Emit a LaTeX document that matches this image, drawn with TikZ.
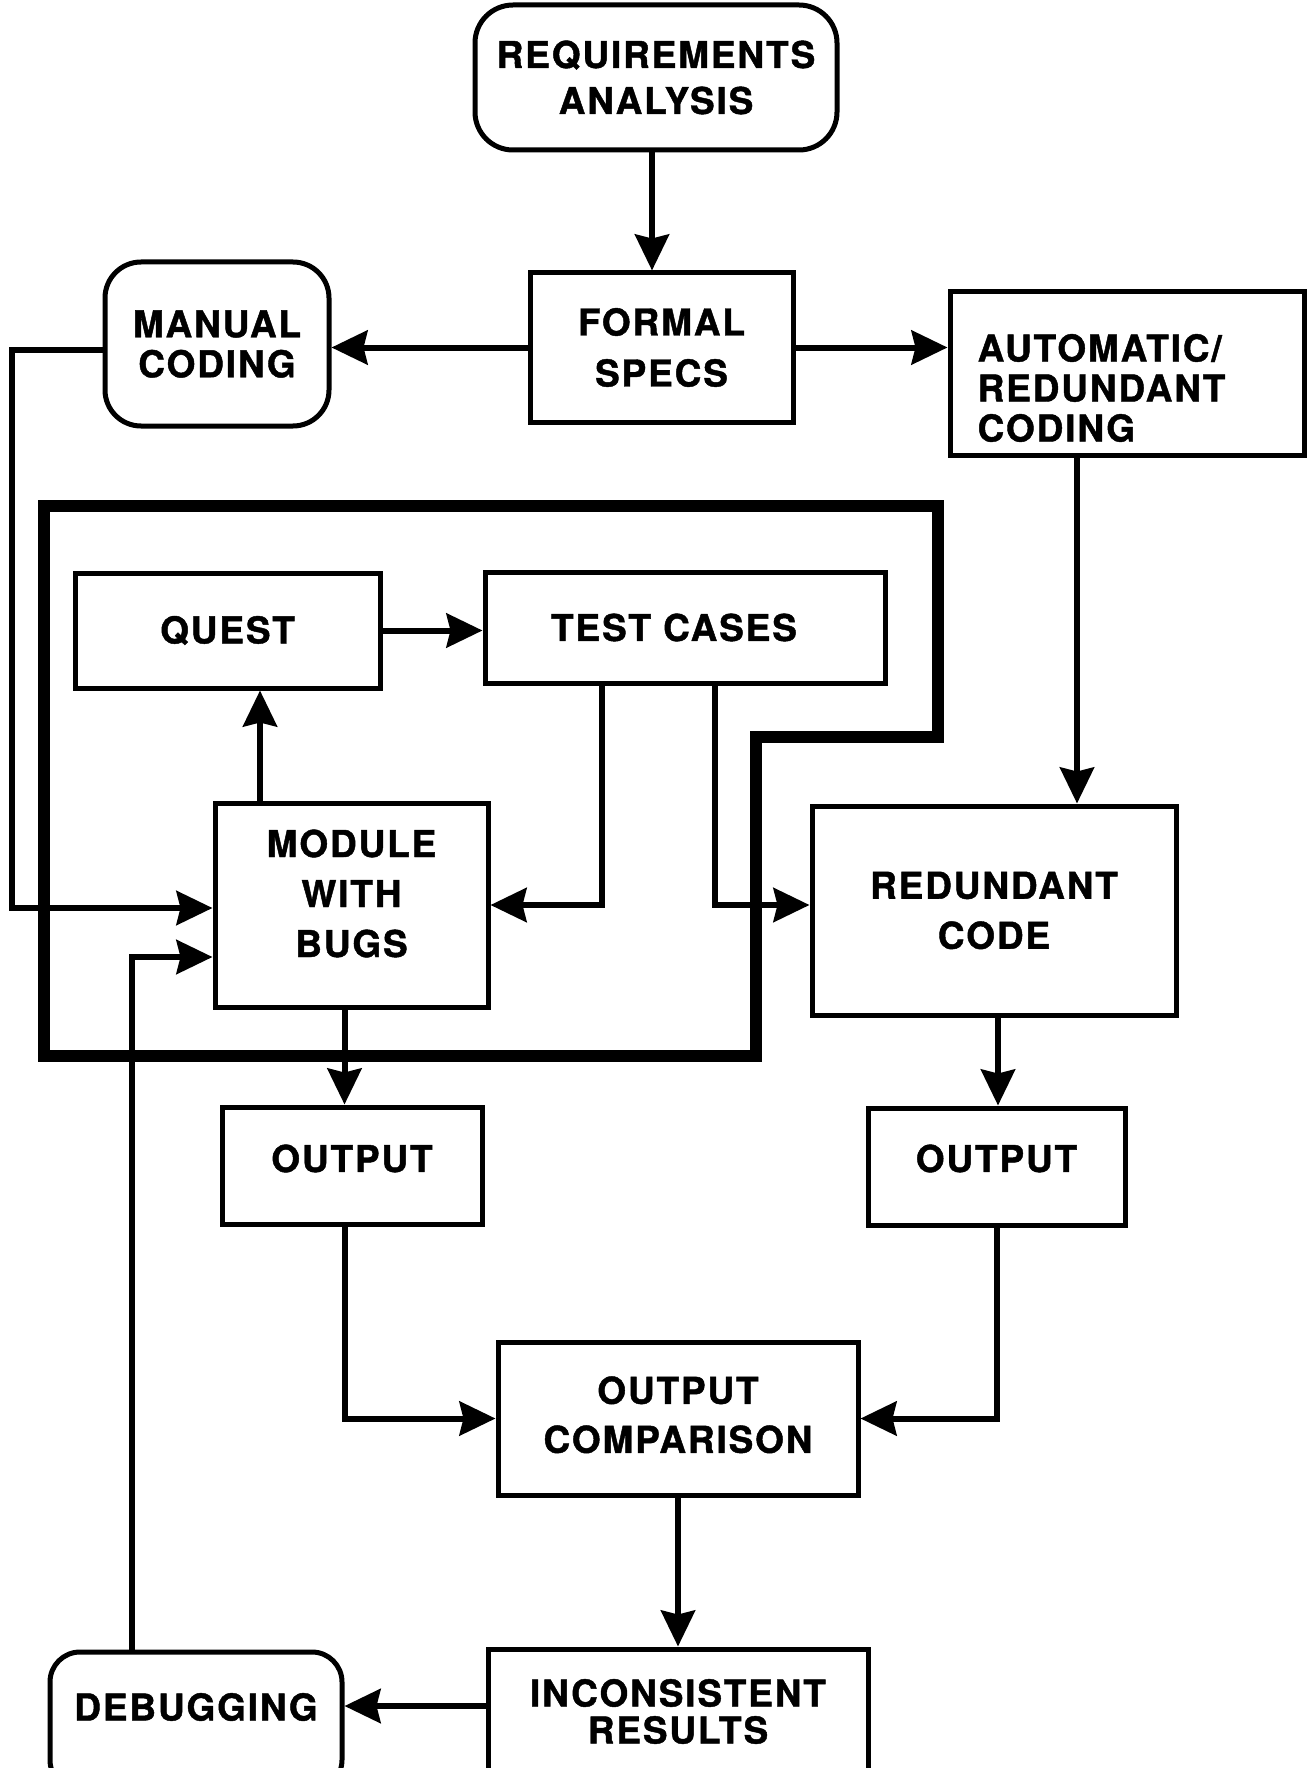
\documentclass[tikz,border=0pt]{standalone}
\usepackage{fontspec}
\setmainfont{TeX Gyre Heros}[LetterSpace=5, BoldFeatures={FakeBold=1.2}]
\usetikzlibrary{arrows.meta}
\newcommand\df[1]{\fontsize{37pt}{#1pt}\selectfont\bfseries}
\newcommand\rz[2]{\raisebox{#1}[\height][\depth]{#2}}
\begin{document}
\begin{tikzpicture}[x=1pt,y=-1pt,
  box/.style={draw, line width=5pt, rectangle, inner sep=4pt, align=center},
  arr/.style={line width=6pt, -{Stealth[length=36pt,width=34pt,inset=4pt]}},
  frameline/.style={line width=12pt, line join=miter}
]
\useasboundingbox (0,0) rectangle (1307,1768);
\fill[white] (0,0) rectangle (1307,1768);
\clip (0,0) rectangle (1307,1768);

% nodes
\node[box, rounded corners=38pt, minimum width=362pt, minimum height=145pt, font=\df{46}] (req) at (656,77.5) {REQUIREMENTS\\ANALYSIS};
\node[box, minimum width=263pt, minimum height=149pt, font=\df{51}] (formal) at (661.5,347.5) {FORMAL\\SPECS};
\node[box, rounded corners=36pt, minimum width=224pt, minimum height=164pt, font=\df{40}] (manual) at (217,344) {MANUAL\\CODING};
\node[draw, line width=5pt, rectangle, inner sep=4pt, minimum width=354pt, minimum height=163pt, font=\df{40}] (auto) at (1127,373.5)
  {\rz{-20pt}{\begin{tabular}{@{}l@{}}AUTOMATIC/\\REDUNDANT\\CODING\end{tabular}}\hspace*{51pt}};
\node[box, minimum width=305pt, minimum height=115pt, font=\df{44}] (quest) at (227.5,630.5) {QUEST};
\node[box, minimum width=400pt, minimum height=111pt, font=\df{44}] (test) at (685,627.5) {TEST CASES\hspace*{22pt}};
\node[box, minimum width=273pt, minimum height=204pt, font=\df{50}] (module) at (351.5,905) {\rz{8pt}{\begin{tabular}{@{}c@{}}MODULE\\WITH\\BUGS\end{tabular}}};
\node[box, minimum width=364pt, minimum height=209pt, font=\df{50}] (red) at (994,910.5) {REDUNDANT\\CODE};
\node[box, minimum width=260pt, minimum height=117pt, font=\df{44}] (outL) at (352,1165.5) {\rz{7pt}{OUTPUT}};
\node[box, minimum width=257pt, minimum height=117pt, font=\df{44}] (outR) at (996.5,1166.5) {\rz{8pt}{OUTPUT}};
\node[box, minimum width=360pt, minimum height=153pt, font=\df{49}] (comp) at (678,1418.5) {\begin{tabular}{@{}c@{}}OUTPUT\\COMPARISON\end{tabular}};
\node[box, minimum width=380pt, minimum height=125pt, font=\df{37}] (incons) at (678,1711.5) {INCONSISTENT\\RESULTS};
\node[box, rounded corners=30pt, minimum width=292pt, minimum height=138pt, font=\df{44}] (debug) at (196,1721) {\rz{14pt}{DEBUGGING}};

% thick frame
\draw[frameline] (44,506) -- (938,506) -- (938,737) -- (756,737) -- (756,1056) -- (44,1056) -- cycle;

% connectors
\draw[arr] ([xshift=-4pt]req.south) -- ([xshift=-4pt]req.south |- formal.north);
\draw[arr] (formal.west) -- (formal.west -| manual.east);
\draw[arr] (formal.east) -- (formal.east -| auto.west);
\draw[arr] ([yshift=-6pt]manual.west) -- ++(-91,0) |- ([yshift=-3pt]module.west);
\draw[arr] ([xshift=-50pt]auto.south) -- ([xshift=-50pt]auto.south |- red.north);
\draw[arr] (quest.east) -- (quest.east -| test.west);
\draw[arr] ([xshift=-91.5pt]module.north) -- ([xshift=-91.5pt]module.north |- quest.south);
\draw[arr] ([xshift=-83pt]test.south) |- (module.east);
\draw[arr] ([xshift=30pt]test.south) |- ([yshift=5.5pt]red.west);
\draw[arr] ([xshift=-7pt]module.south) -- ([xshift=-7pt]module.south |- outL.north);
\draw[arr] ([xshift=4pt]red.south) -- ([xshift=4pt]red.south |- outR.north);
\draw[arr] ([xshift=-7pt]outL.south) |- (comp.west);
\draw[arr] (outR.south) |- (comp.east);
\draw[arr] (comp.south) -- (incons.north);
\draw[arr] ([yshift=5.5pt]incons.west) -- ([yshift=5.5pt]incons.west -| debug.east);
\draw[arr] ([xshift=-64pt]debug.north) |- ([yshift=-52pt]module.west);
\end{tikzpicture}
\end{document}
